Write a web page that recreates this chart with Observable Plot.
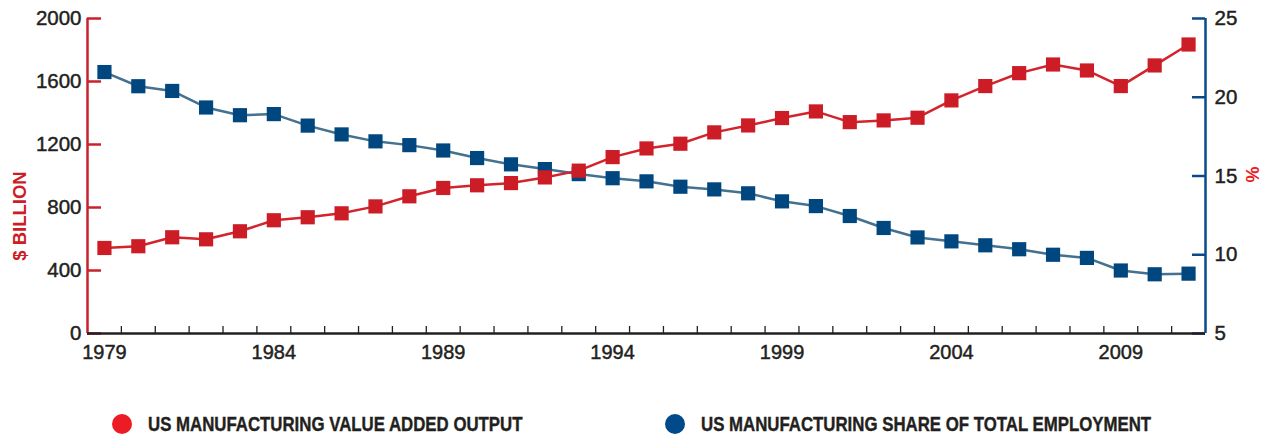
<!DOCTYPE html>
<html>
<head>
<meta charset="utf-8">
<script src="https://cdn.jsdelivr.net/npm/d3@7"></script>
<script src="https://cdn.jsdelivr.net/npm/@observablehq/plot@0.6"></script>
<style>
  html, body { margin: 0; padding: 0; background: #ffffff; }
  #chart { width: 1270px; height: 434px; position: relative; overflow: hidden; }
  #chart g[aria-label$="tick label"] text { paint-order: stroke; stroke: #231f20; stroke-width: 0.45px; }
  .legend { position: relative; height: 36px; width: 1270px; font-family: "Liberation Sans", Arial, sans-serif; font-weight: bold; font-size: 20.5px; color: #231f20; }
  .legend .item { position: absolute; top: 16px; display: flex; align-items: center; height: 20px; white-space: nowrap; }
  .legend .dot { width: 20px; height: 20px; border-radius: 50%; margin-right: 16px; flex: none; }
  .legend .txt { display: inline-block; transform: scaleX(0.82); transform-origin: left center; line-height: 20px; -webkit-text-stroke: 0.4px #231f20; }
</style>
</head>
<body>
<div id="chart"></div>
<script>
// ---- data ----
const years = [1979, 1980, 1981, 1982, 1983, 1984, 1985, 1986, 1987, 1988, 1989, 1990, 1991, 1992, 1993, 1994,
  1995, 1996, 1997, 1998, 1999, 2000, 2001, 2002, 2003, 2004, 2005, 2006, 2007, 2008, 2009, 2010, 2011];
const valueAdded = [543, 554, 611, 598, 649, 719, 738, 763, 807, 871, 924, 941, 955, 991, 1034, 1120,
  1175, 1205, 1277, 1321, 1368, 1410, 1342, 1353, 1370, 1480, 1571, 1653, 1708, 1670, 1571, 1702, 1835];
const employmentShare = [21.6, 20.7, 20.4, 19.35, 18.86, 18.93, 18.2, 17.64, 17.2, 16.96, 16.62, 16.14, 15.74, 15.44, 15.12, 14.86,
  14.66, 14.32, 14.15, 13.9, 13.39, 13.09, 12.46, 11.7, 11.1, 10.85, 10.6, 10.35, 10.0, 9.8, 9.0, 8.76, 8.8];
const xLabelYears = [1979, 1984, 1989, 1994, 1999, 2004, 2009];
const leftTicks = [0, 400, 800, 1200, 1600, 2000];
const rightTicks = [5, 10, 15, 20, 25];
const leftDomain = [0, 2000];
const rightDomain = [5, 25];
const xDomain = [1978.5, 2011.5];
const seriesNames = ["US MANUFACTURING VALUE ADDED OUTPUT", "US MANUFACTURING SHARE OF TOTAL EMPLOYMENT"];
const leftTitle = "$ BILLION";
const rightTitle = "%";

// ---- styles ----
const red = "#cc1c26", redLine = "#d3232c", redAxis = "#c8202d", redLegend = "#ec1c24";
const blue = "#00467f", blueLine = "#44718f", blueAxis = "#0a4a8a", blueLegend = "#004a8c";
const ink = "#231f20";
const sans = "'Liberation Sans', Arial, sans-serif";

const W = 1270, H = 398, mL = 87, mR = 65, mT = 18, mB = 65;
const frameW = W - mL - mR, frameH = H - mT - mB;

const share2left = d3.scaleLinear(rightDomain, leftDomain);
const rows = years.map((year, i) => ({year, value: valueAdded[i], share: employmentShare[i]}));
const minorTicks = years.slice(0, -1).map(y => y + 0.5);

const chart = Plot.plot({
  width: W, height: H,
  marginLeft: mL, marginRight: mR, marginTop: mT, marginBottom: mB,
  x: {domain: xDomain, label: null},
  y: {domain: leftDomain, label: null},
  style: {fontFamily: sans, fontSize: "20px", color: ink, background: "white", overflow: "visible"},
  marks: [
    // axis lines
    Plot.ruleX([xDomain[0]], {stroke: redAxis, strokeWidth: 2.5}),
    Plot.ruleX([xDomain[1]], {stroke: blueAxis, strokeWidth: 2.5}),
    // inward ticks
    Plot.tickY(leftTicks, {y: d => d, stroke: redAxis, strokeWidth: 2.5, insetRight: frameW - 14}),
    Plot.tickY(rightTicks.map(share2left), {y: d => d, stroke: blueAxis, strokeWidth: 2.5, insetLeft: frameW - 13}),
    Plot.tickX(minorTicks, {x: d => d, stroke: ink, strokeWidth: 1.3, insetTop: frameH - 7}),
    Plot.ruleY([leftDomain[0]], {stroke: ink, strokeWidth: 2.5}),
    // axis labels
    Plot.axisX(xLabelYears, {anchor: "bottom", label: null, tickSize: 0, tickPadding: 11, tickFormat: d => String(d), fill: ink, fontSize: 20}),
    Plot.axisY(leftTicks, {anchor: "left", label: null, tickSize: 0, tickPadding: 6, tickFormat: d => String(d), fill: ink, fontSize: 20.5}),
    Plot.axisY(rightTicks.map(share2left), {anchor: "right", label: null, tickSize: 0, tickPadding: 9,
      tickFormat: d => String(Math.round(share2left.invert(d))), fill: ink, fontSize: 20.5}),
    // axis titles
    Plot.text([leftTitle], {frameAnchor: "left", textAnchor: "middle", dx: -67, dy: 40, rotate: -90, fill: red, fontWeight: "bold", fontFamily: sans, fontSize: 18.5}),
    Plot.text([rightTitle], {frameAnchor: "right", textAnchor: "middle", dx: 48, dy: -1.5, rotate: -90, fill: redLegend, fontWeight: "bold", fontFamily: sans, fontSize: 18}),
    // series
    Plot.line(rows, {x: "year", y: d => share2left(d.share), stroke: blueLine, strokeWidth: 2.5}),
    Plot.dot(rows, {x: "year", y: d => share2left(d.share), symbol: "square", r: 8, fill: blue, stroke: "none"}),
    Plot.line(rows, {x: "year", y: "value", stroke: redLine, strokeWidth: 2.5}),
    Plot.dot(rows, {x: "year", y: "value", symbol: "square", r: 8, fill: red, stroke: "none"})
  ]
});

const root = document.getElementById("chart");
root.appendChild(chart);

const legend = document.createElement("div");
legend.className = "legend";
const legendItems = [
  {label: seriesNames[0], color: redLegend, left: 112},
  {label: seriesNames[1], color: blueLegend, left: 665}
];
for (const it of legendItems) {
  const item = document.createElement("div");
  item.className = "item";
  item.style.left = it.left + "px";
  const dot = document.createElement("span");
  dot.className = "dot";
  dot.style.background = it.color;
  const txt = document.createElement("span");
  txt.className = "txt";
  txt.textContent = it.label;
  item.appendChild(dot);
  item.appendChild(txt);
  legend.appendChild(item);
}
root.appendChild(legend);
</script>
</body>
</html>
